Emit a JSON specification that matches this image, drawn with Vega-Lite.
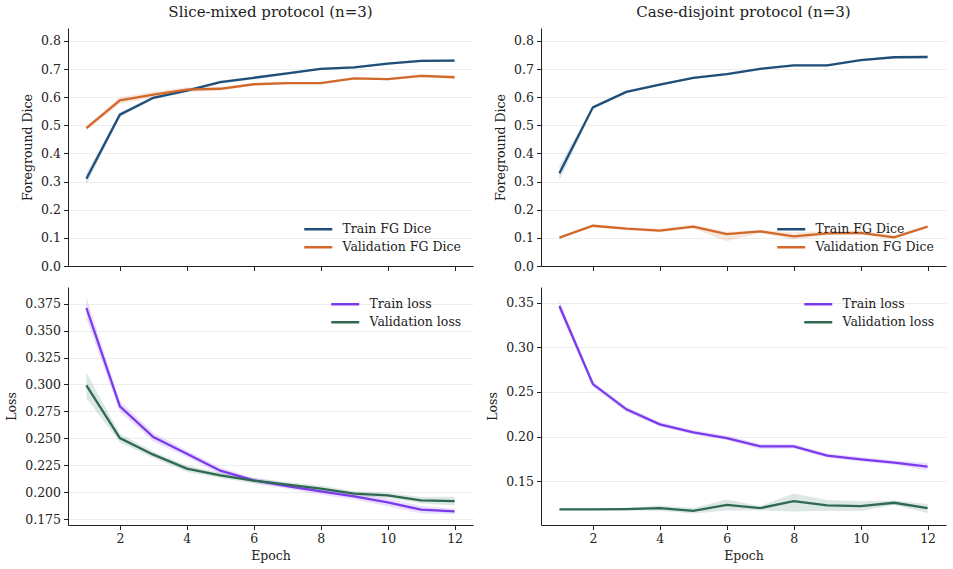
{
  "$schema": "https://vega.github.io/schema/vega-lite/v6.json",
  "background": "white",
  "padding": {"left": 5, "top": 5, "right": 5, "bottom": 5},
  "config": {
    "font": "DejaVu Serif",
    "view": {"stroke": null},
    "title": {"font": "DejaVu Serif", "fontSize": 15, "fontWeight": "normal", "color": "#222", "offset": 8},
    "axis": {"domainColor": "#222", "tickColor": "#222", "tickSize": 4.5, "labelFont": "DejaVu Serif", "labelFontSize": 12.5, "labelColor": "#222", "titleFont": "DejaVu Serif", "titleFontSize": 12.5, "titleFontWeight": "normal", "titleColor": "#222", "gridColor": "#ededed", "labelPadding": 3},
    "axisX": {"grid": false},
    "axisY": {"grid": true, "titlePadding": 6},
    "legend": {"labelFont": "DejaVu Serif", "labelFontSize": 12.5, "labelColor": "#222", "labelOffset": 18, "rowPadding": 5, "padding": 0}
  },
  "spacing": {"row": 21, "column": 68},
  "bounds": "flush",
  "columns": 2,
  "resolve": {"scale": {"color": "independent"}},
  "data": {"values": [
    {"p":"A","e":1,"s":"Train FG Dice","m":0.310,"lo":0.290,"hi":0.330},
    {"p":"A","e":2,"s":"Train FG Dice","m":0.538,"lo":0.530,"hi":0.546},
    {"p":"A","e":3,"s":"Train FG Dice","m":0.598,"lo":0.593,"hi":0.603},
    {"p":"A","e":4,"s":"Train FG Dice","m":0.623,"lo":0.618,"hi":0.628},
    {"p":"A","e":5,"s":"Train FG Dice","m":0.654,"lo":0.649,"hi":0.659},
    {"p":"A","e":6,"s":"Train FG Dice","m":0.669,"lo":0.664,"hi":0.674},
    {"p":"A","e":7,"s":"Train FG Dice","m":0.685,"lo":0.681,"hi":0.689},
    {"p":"A","e":8,"s":"Train FG Dice","m":0.701,"lo":0.697,"hi":0.705},
    {"p":"A","e":9,"s":"Train FG Dice","m":0.706,"lo":0.702,"hi":0.710},
    {"p":"A","e":10,"s":"Train FG Dice","m":0.719,"lo":0.715,"hi":0.723},
    {"p":"A","e":11,"s":"Train FG Dice","m":0.729,"lo":0.725,"hi":0.733},
    {"p":"A","e":12,"s":"Train FG Dice","m":0.730,"lo":0.725,"hi":0.735},
    {"p":"A","e":1,"s":"Validation FG Dice","m":0.490,"lo":0.482,"hi":0.498},
    {"p":"A","e":2,"s":"Validation FG Dice","m":0.589,"lo":0.577,"hi":0.601},
    {"p":"A","e":3,"s":"Validation FG Dice","m":0.609,"lo":0.599,"hi":0.619},
    {"p":"A","e":4,"s":"Validation FG Dice","m":0.627,"lo":0.619,"hi":0.635},
    {"p":"A","e":5,"s":"Validation FG Dice","m":0.630,"lo":0.624,"hi":0.636},
    {"p":"A","e":6,"s":"Validation FG Dice","m":0.646,"lo":0.642,"hi":0.650},
    {"p":"A","e":7,"s":"Validation FG Dice","m":0.650,"lo":0.646,"hi":0.654},
    {"p":"A","e":8,"s":"Validation FG Dice","m":0.650,"lo":0.646,"hi":0.654},
    {"p":"A","e":9,"s":"Validation FG Dice","m":0.667,"lo":0.663,"hi":0.671},
    {"p":"A","e":10,"s":"Validation FG Dice","m":0.664,"lo":0.660,"hi":0.668},
    {"p":"A","e":11,"s":"Validation FG Dice","m":0.676,"lo":0.670,"hi":0.682},
    {"p":"A","e":12,"s":"Validation FG Dice","m":0.671,"lo":0.667,"hi":0.675},
    {"p":"B","e":1,"s":"Train FG Dice","m":0.330,"lo":0.305,"hi":0.355},
    {"p":"B","e":2,"s":"Train FG Dice","m":0.564,"lo":0.558,"hi":0.570},
    {"p":"B","e":3,"s":"Train FG Dice","m":0.619,"lo":0.614,"hi":0.624},
    {"p":"B","e":4,"s":"Train FG Dice","m":0.645,"lo":0.641,"hi":0.649},
    {"p":"B","e":5,"s":"Train FG Dice","m":0.669,"lo":0.665,"hi":0.673},
    {"p":"B","e":6,"s":"Train FG Dice","m":0.682,"lo":0.678,"hi":0.686},
    {"p":"B","e":7,"s":"Train FG Dice","m":0.701,"lo":0.697,"hi":0.705},
    {"p":"B","e":8,"s":"Train FG Dice","m":0.713,"lo":0.709,"hi":0.717},
    {"p":"B","e":9,"s":"Train FG Dice","m":0.713,"lo":0.709,"hi":0.717},
    {"p":"B","e":10,"s":"Train FG Dice","m":0.732,"lo":0.728,"hi":0.736},
    {"p":"B","e":11,"s":"Train FG Dice","m":0.742,"lo":0.738,"hi":0.746},
    {"p":"B","e":12,"s":"Train FG Dice","m":0.743,"lo":0.739,"hi":0.747},
    {"p":"B","e":1,"s":"Validation FG Dice","m":0.101,"lo":0.097,"hi":0.105},
    {"p":"B","e":2,"s":"Validation FG Dice","m":0.143,"lo":0.138,"hi":0.148},
    {"p":"B","e":3,"s":"Validation FG Dice","m":0.133,"lo":0.128,"hi":0.138},
    {"p":"B","e":4,"s":"Validation FG Dice","m":0.126,"lo":0.120,"hi":0.132},
    {"p":"B","e":5,"s":"Validation FG Dice","m":0.140,"lo":0.133,"hi":0.147},
    {"p":"B","e":6,"s":"Validation FG Dice","m":0.113,"lo":0.088,"hi":0.122},
    {"p":"B","e":7,"s":"Validation FG Dice","m":0.123,"lo":0.117,"hi":0.129},
    {"p":"B","e":8,"s":"Validation FG Dice","m":0.105,"lo":0.094,"hi":0.119},
    {"p":"B","e":9,"s":"Validation FG Dice","m":0.116,"lo":0.108,"hi":0.124},
    {"p":"B","e":10,"s":"Validation FG Dice","m":0.118,"lo":0.111,"hi":0.125},
    {"p":"B","e":11,"s":"Validation FG Dice","m":0.102,"lo":0.096,"hi":0.109},
    {"p":"B","e":12,"s":"Validation FG Dice","m":0.140,"lo":0.136,"hi":0.144},
    {"p":"C","e":1,"s":"Train loss","m":0.371,"lo":0.361,"hi":0.381},
    {"p":"C","e":2,"s":"Train loss","m":0.2797,"lo":0.2747,"hi":0.2847},
    {"p":"C","e":3,"s":"Train loss","m":0.2511,"lo":0.2471,"hi":0.2551},
    {"p":"C","e":4,"s":"Train loss","m":0.2357,"lo":0.2327,"hi":0.2387},
    {"p":"C","e":5,"s":"Train loss","m":0.2199,"lo":0.2169,"hi":0.2229},
    {"p":"C","e":6,"s":"Train loss","m":0.2109,"lo":0.2084,"hi":0.2134},
    {"p":"C","e":7,"s":"Train loss","m":0.2057,"lo":0.2032,"hi":0.2082},
    {"p":"C","e":8,"s":"Train loss","m":0.2007,"lo":0.1977,"hi":0.2037},
    {"p":"C","e":9,"s":"Train loss","m":0.1961,"lo":0.1931,"hi":0.1991},
    {"p":"C","e":10,"s":"Train loss","m":0.1905,"lo":0.1870,"hi":0.1940},
    {"p":"C","e":11,"s":"Train loss","m":0.1837,"lo":0.1802,"hi":0.1872},
    {"p":"C","e":12,"s":"Train loss","m":0.1822,"lo":0.1797,"hi":0.1847},
    {"p":"C","e":1,"s":"Validation loss","m":0.2991,"lo":0.2871,"hi":0.3111},
    {"p":"C","e":2,"s":"Validation loss","m":0.2502,"lo":0.2462,"hi":0.2542},
    {"p":"C","e":3,"s":"Validation loss","m":0.2348,"lo":0.2318,"hi":0.2378},
    {"p":"C","e":4,"s":"Validation loss","m":0.2218,"lo":0.2188,"hi":0.2248},
    {"p":"C","e":5,"s":"Validation loss","m":0.2156,"lo":0.2131,"hi":0.2181},
    {"p":"C","e":6,"s":"Validation loss","m":0.2107,"lo":0.2082,"hi":0.2132},
    {"p":"C","e":7,"s":"Validation loss","m":0.2069,"lo":0.2044,"hi":0.2094},
    {"p":"C","e":8,"s":"Validation loss","m":0.2032,"lo":0.2002,"hi":0.2062},
    {"p":"C","e":9,"s":"Validation loss","m":0.1986,"lo":0.1961,"hi":0.2011},
    {"p":"C","e":10,"s":"Validation loss","m":0.1970,"lo":0.1945,"hi":0.1995},
    {"p":"C","e":11,"s":"Validation loss","m":0.1924,"lo":0.1894,"hi":0.1954},
    {"p":"C","e":12,"s":"Validation loss","m":0.1917,"lo":0.1877,"hi":0.1957},
    {"p":"D","e":1,"s":"Train loss","m":0.3463,"lo":0.3403,"hi":0.3523},
    {"p":"D","e":2,"s":"Train loss","m":0.2588,"lo":0.2558,"hi":0.2618},
    {"p":"D","e":3,"s":"Train loss","m":0.2305,"lo":0.2275,"hi":0.2335},
    {"p":"D","e":4,"s":"Train loss","m":0.2137,"lo":0.2112,"hi":0.2162},
    {"p":"D","e":5,"s":"Train loss","m":0.2048,"lo":0.2023,"hi":0.2073},
    {"p":"D","e":6,"s":"Train loss","m":0.1984,"lo":0.1959,"hi":0.2009},
    {"p":"D","e":7,"s":"Train loss","m":0.1891,"lo":0.1861,"hi":0.1921},
    {"p":"D","e":8,"s":"Train loss","m":0.1891,"lo":0.1866,"hi":0.1916},
    {"p":"D","e":9,"s":"Train loss","m":0.1787,"lo":0.1762,"hi":0.1812},
    {"p":"D","e":10,"s":"Train loss","m":0.1746,"lo":0.1721,"hi":0.1771},
    {"p":"D","e":11,"s":"Train loss","m":0.1709,"lo":0.1684,"hi":0.1734},
    {"p":"D","e":12,"s":"Train loss","m":0.1664,"lo":0.1624,"hi":0.1704},
    {"p":"D","e":1,"s":"Validation loss","m":0.1184,"lo":0.1174,"hi":0.1194},
    {"p":"D","e":2,"s":"Validation loss","m":0.1184,"lo":0.1174,"hi":0.1194},
    {"p":"D","e":3,"s":"Validation loss","m":0.1188,"lo":0.1173,"hi":0.1203},
    {"p":"D","e":4,"s":"Validation loss","m":0.1199,"lo":0.1169,"hi":0.1229},
    {"p":"D","e":5,"s":"Validation loss","m":0.1169,"lo":0.1139,"hi":0.1199},
    {"p":"D","e":6,"s":"Validation loss","m":0.1236,"lo":0.1171,"hi":0.1296},
    {"p":"D","e":7,"s":"Validation loss","m":0.1199,"lo":0.1174,"hi":0.1224},
    {"p":"D","e":8,"s":"Validation loss","m":0.1277,"lo":0.1161,"hi":0.1363},
    {"p":"D","e":9,"s":"Validation loss","m":0.1229,"lo":0.1169,"hi":0.1289},
    {"p":"D","e":10,"s":"Validation loss","m":0.1221,"lo":0.1166,"hi":0.1276},
    {"p":"D","e":11,"s":"Validation loss","m":0.1259,"lo":0.1234,"hi":0.1284},
    {"p":"D","e":12,"s":"Validation loss","m":0.1199,"lo":0.1144,"hi":0.1244}
  ]},
  "concat": [
    {
      "width": 405, "height": 238,
      "title": "Slice-mixed protocol (n=3)",
      "transform": [{"filter": "datum.p === 'A'"}],
      "encoding": {
        "x": {"field": "e", "type": "quantitative", "scale": {"domain": [0.45, 12.55], "nice": false, "zero": false}, "axis": {"values": [2, 4, 6, 8, 10, 12], "labels": false, "title": null}},
        "color": {"field": "s", "type": "nominal", "scale": {"domain": ["Train FG Dice", "Validation FG Dice"], "range": ["#1f4e79", "#d2692a"]}, "legend": {"orient": "bottom-right", "title": null, "offset": 12, "symbolType": "M-4,0H4", "symbolSize": 49, "symbolStrokeWidth": 2.5, "symbolOpacity": 1}}
      },
      "layer": [
        {"mark": {"type": "area", "opacity": 0.16},
         "encoding": {
           "y": {"field": "lo", "type": "quantitative", "scale": {"domain": [0, 0.846], "nice": false, "zero": false}, "axis": {"values": [0, 0.1, 0.2, 0.3, 0.4, 0.5, 0.6, 0.7, 0.8], "format": ".1f"}, "title": "Foreground Dice"},
           "y2": {"field": "hi"}
         }},
        {"mark": {"type": "line", "strokeWidth": 2.3},
         "encoding": {
           "y": {"field": "m", "type": "quantitative", "axis": {"values": [0, 0.1, 0.2, 0.3, 0.4, 0.5, 0.6, 0.7, 0.8], "format": ".1f"}, "title": "Foreground Dice"}
         }}
      ]
    },
    {
      "width": 405, "height": 238,
      "title": "Case-disjoint protocol (n=3)",
      "transform": [{"filter": "datum.p === 'B'"}],
      "encoding": {
        "x": {"field": "e", "type": "quantitative", "scale": {"domain": [0.45, 12.55], "nice": false, "zero": false}, "axis": {"values": [2, 4, 6, 8, 10, 12], "labels": false, "title": null}},
        "color": {"field": "s", "type": "nominal", "scale": {"domain": ["Train FG Dice", "Validation FG Dice"], "range": ["#1f4e79", "#d2692a"]}, "legend": {"orient": "bottom-right", "title": null, "offset": 12, "symbolType": "M-4,0H4", "symbolSize": 49, "symbolStrokeWidth": 2.5, "symbolOpacity": 1}}
      },
      "layer": [
        {"mark": {"type": "area", "opacity": 0.16},
         "encoding": {
           "y": {"field": "lo", "type": "quantitative", "scale": {"domain": [0, 0.846], "nice": false, "zero": false}, "axis": {"values": [0, 0.1, 0.2, 0.3, 0.4, 0.5, 0.6, 0.7, 0.8], "format": ".1f"}, "title": "Foreground Dice"},
           "y2": {"field": "hi"}
         }},
        {"mark": {"type": "line", "strokeWidth": 2.3},
         "encoding": {
           "y": {"field": "m", "type": "quantitative", "axis": {"values": [0, 0.1, 0.2, 0.3, 0.4, 0.5, 0.6, 0.7, 0.8], "format": ".1f"}, "title": "Foreground Dice"}
         }}
      ]
    },
    {
      "width": 405, "height": 238,
      "transform": [{"filter": "datum.p === 'C'"}],
      "encoding": {
        "x": {"field": "e", "type": "quantitative", "scale": {"domain": [0.45, 12.55], "nice": false, "zero": false}, "axis": {"values": [2, 4, 6, 8, 10, 12], "format": "d"}, "title": "Epoch"},
        "color": {"field": "s", "type": "nominal", "scale": {"domain": ["Train loss", "Validation loss"], "range": ["#7c3aed", "#2d6a4f"]}, "legend": {"orient": "top-right", "title": null, "offset": 11, "symbolType": "M-4,0H4", "symbolSize": 49, "symbolStrokeWidth": 2.5, "symbolOpacity": 1}}
      },
      "layer": [
        {"mark": {"type": "area", "opacity": 0.16},
         "encoding": {
           "y": {"field": "lo", "type": "quantitative", "scale": {"domain": [0.1695, 0.3905], "nice": false, "zero": false}, "axis": {"values": [0.175, 0.2, 0.225, 0.25, 0.275, 0.3, 0.325, 0.35, 0.375], "format": ".3f"}, "title": "Loss"},
           "y2": {"field": "hi"}
         }},
        {"mark": {"type": "line", "strokeWidth": 2.3},
         "encoding": {
           "y": {"field": "m", "type": "quantitative", "axis": {"values": [0.175, 0.2, 0.225, 0.25, 0.275, 0.3, 0.325, 0.35, 0.375], "format": ".3f"}, "title": "Loss"}
         }}
      ]
    },
    {
      "width": 405, "height": 238,
      "transform": [{"filter": "datum.p === 'D'"}],
      "encoding": {
        "x": {"field": "e", "type": "quantitative", "scale": {"domain": [0.45, 12.55], "nice": false, "zero": false}, "axis": {"values": [2, 4, 6, 8, 10, 12], "format": "d"}, "title": "Epoch"},
        "color": {"field": "s", "type": "nominal", "scale": {"domain": ["Train loss", "Validation loss"], "range": ["#7c3aed", "#2d6a4f"]}, "legend": {"orient": "top-right", "title": null, "offset": 11, "symbolType": "M-4,0H4", "symbolSize": 49, "symbolStrokeWidth": 2.5, "symbolOpacity": 1}}
      },
      "layer": [
        {"mark": {"type": "area", "opacity": 0.16},
         "encoding": {
           "y": {"field": "lo", "type": "quantitative", "scale": {"domain": [0.101, 0.3675], "nice": false, "zero": false}, "axis": {"values": [0.15, 0.2, 0.25, 0.3, 0.35], "format": ".2f"}, "title": "Loss"},
           "y2": {"field": "hi"}
         }},
        {"mark": {"type": "line", "strokeWidth": 2.3},
         "encoding": {
           "y": {"field": "m", "type": "quantitative", "axis": {"values": [0.15, 0.2, 0.25, 0.3, 0.35], "format": ".2f"}, "title": "Loss"}
         }}
      ]
    }
  ]
}
